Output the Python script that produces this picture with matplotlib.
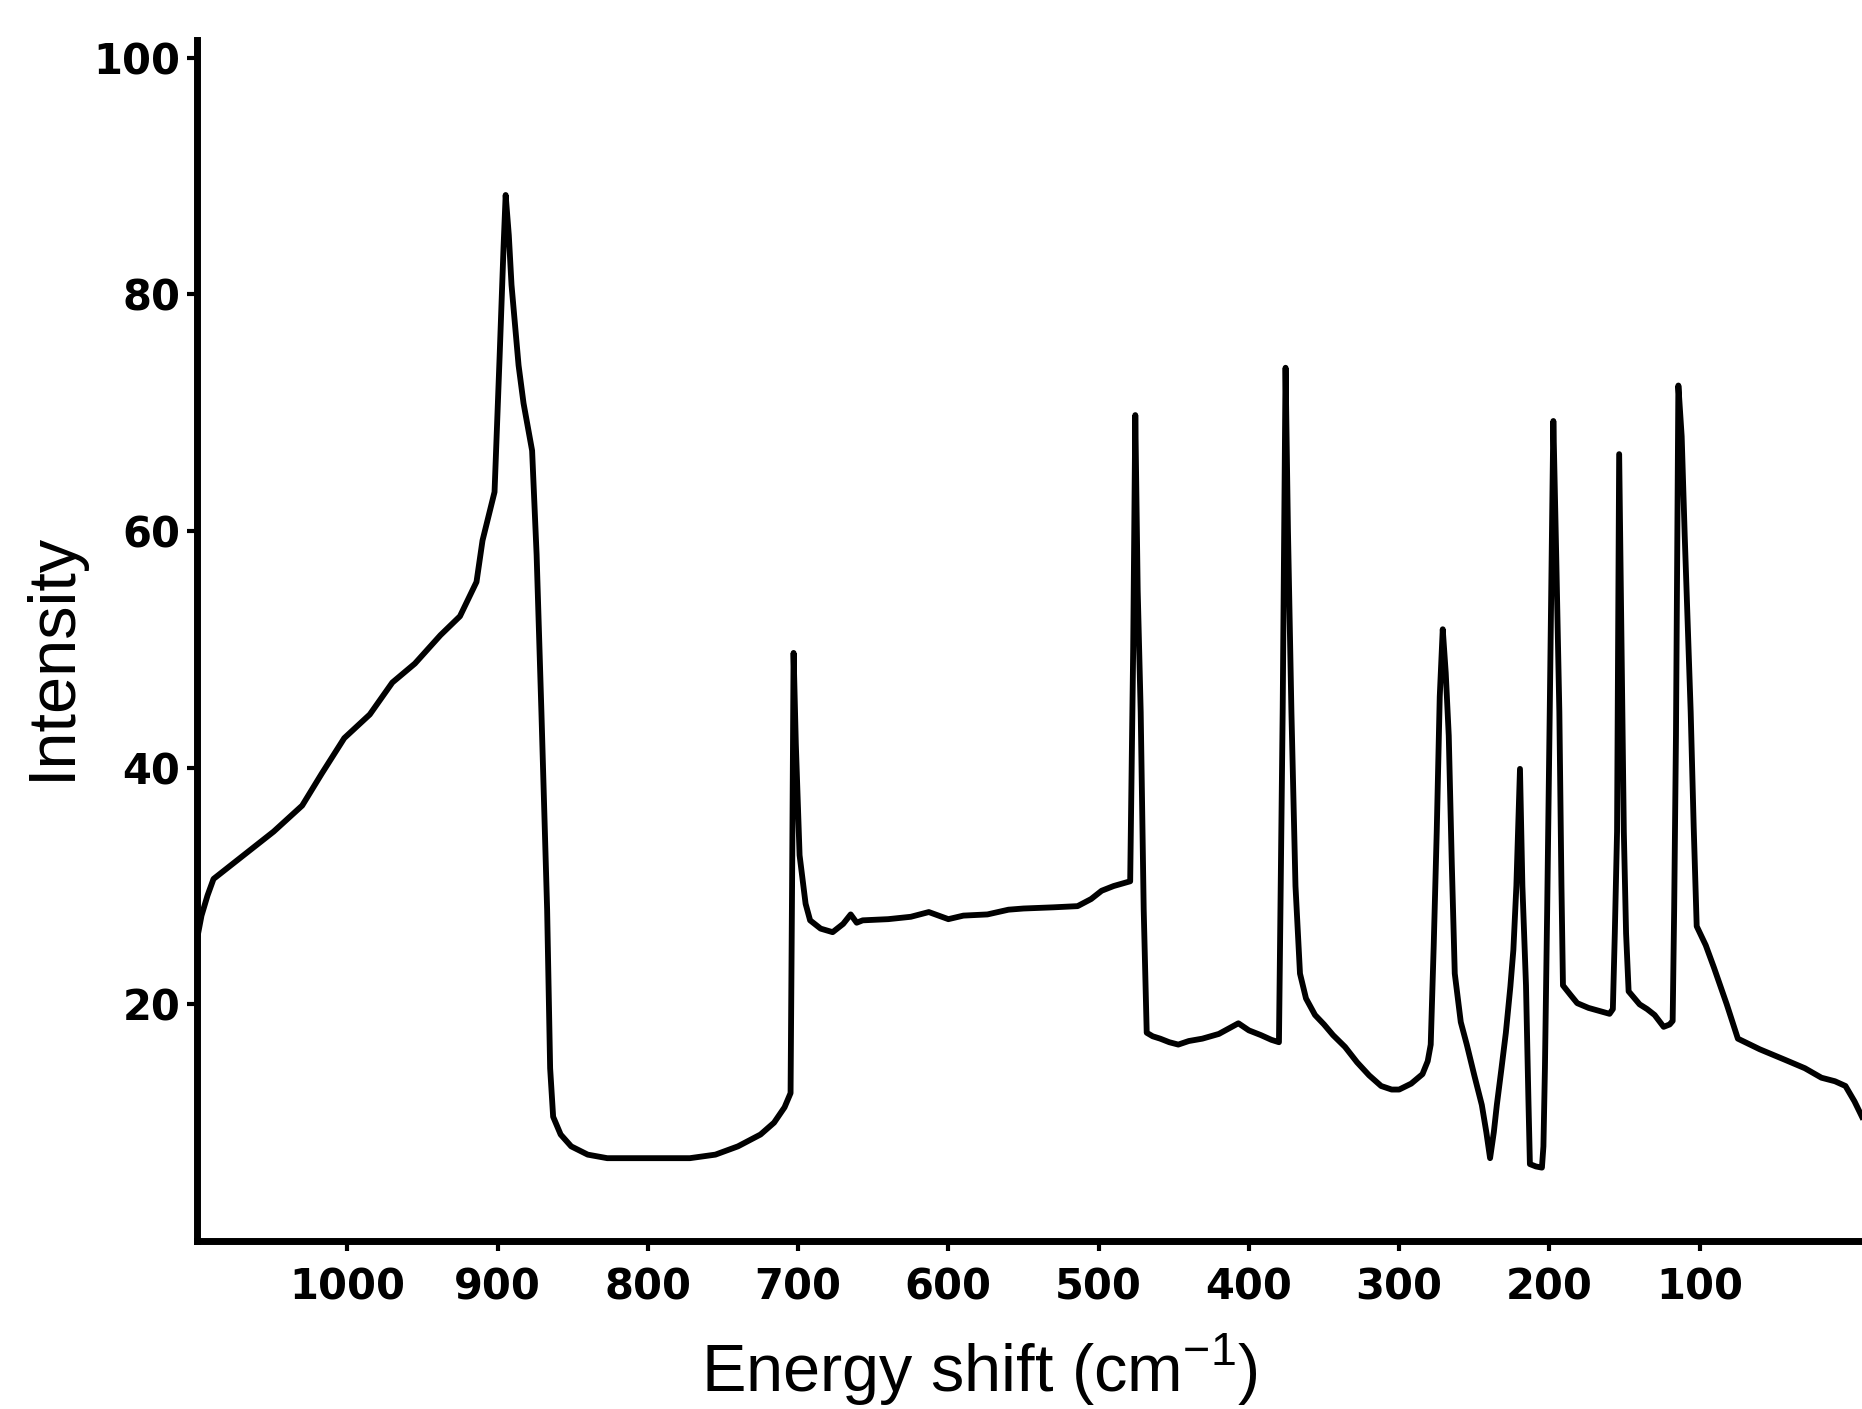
import matplotlib
matplotlib.use("Agg")
import matplotlib.pyplot as plt

# Raman spectrum (energy shift in cm^-1, intensity)
shift = [1100, 1097, 1093, 1089, 1070, 1049, 1030, 1017, 1002, 985, 970, 955,
         938, 925, 914, 910, 902, 898.6, 896, 894.6, 892.5, 890.7, 886, 882.7,
         877, 874, 870.8, 867, 865, 863, 858, 851, 840, 827, 800, 772, 755, 740,
         725, 716, 709, 705, 704, 703, 701.5, 699, 695, 692, 685, 677, 670, 665,
         661, 657, 640, 625, 613, 600, 590, 574, 560, 550, 530, 514, 505, 498,
         490, 479, 477, 475.6, 474, 472, 470, 468, 464, 459, 453, 447, 440, 431,
         420, 407, 400, 392, 385, 380, 377.5, 375.6, 374, 371.7, 369, 366, 362,
         356, 350, 344, 336, 328, 320, 312, 305, 300, 292, 284.5, 281, 279, 277,
         275, 273, 271, 269, 267, 265, 263, 259, 255, 250, 245, 242, 239.5, 237,
         235, 232, 229, 226, 224, 222, 219.6, 218, 215.6, 214, 213, 209, 205, 204,
         203, 201.5, 199.8, 197.4, 195.5, 193.4, 192, 191, 186, 181.5, 174, 165.6,
         160, 157.8, 156.5, 155, 153.6, 152, 150.5, 149, 147.3, 140, 135, 130,
         124, 120, 118, 117, 115.8, 114.2, 112, 110, 106, 104, 102, 96, 90.5, 82,
         74.6, 60, 43, 30, 19, 10, 3, -3, -8]
intensity = [25.5, 27.5, 29.2, 30.6, 32.5, 34.6, 36.8, 39.5, 42.5, 44.5, 47.2,
             48.8, 51.2, 52.8, 55.7, 59.2, 63.3, 74.8, 84, 88.4, 85, 80.8, 74,
             70.8, 66.8, 58, 44.7, 28, 14.6, 10.5, 9, 8.0, 7.3, 7.0, 7.0, 7.0,
             7.3, 8.0, 9.0, 10.0, 11.3, 12.5, 30, 49.7, 42, 32.6, 28.5, 27.1, 26.4,
             26.1, 26.8, 27.6, 26.9, 27.1, 27.2, 27.4, 27.8, 27.2, 27.5, 27.6, 28.0,
             28.1, 28.2, 28.3, 28.9, 29.6, 30.0, 30.4, 50, 69.8, 55, 44.7, 28,
             17.6, 17.3, 17.1, 16.8, 16.6, 16.9, 17.1, 17.5, 18.4, 17.8, 17.4, 17.0,
             16.8, 45, 73.8, 60, 44.7, 30, 22.6, 20.5, 19.1, 18.3, 17.4, 16.4, 15.1,
             14.0, 13.1, 12.8, 12.8, 13.3, 14.1, 15.2, 16.6, 25, 34.6, 46, 51.7,
             48, 42.7, 32, 22.6, 18.5, 16.6, 14, 11.5, 9.2, 7.0, 9.2, 11.5, 14.5,
             17.6, 21.5, 24.6, 30, 39.9, 30, 21.6, 12, 6.5, 6.3, 6.2, 8, 14.6, 28,
             44.7, 69.3, 58, 44.7, 30, 21.6, 20.8, 20.1, 19.7, 19.4, 19.2, 19.6, 26,
             34.6, 66.5, 50, 34.6, 26, 21.1, 20, 19.6, 19.1, 18.1, 18.3, 18.6, 28,
             42.7, 72.3, 68, 59.7, 44.7, 35, 26.6, 25, 23.1, 20, 17.1, 16.2, 15.3,
             14.6, 13.8, 13.5, 13.1, 11.8, 10.5]

x_ticks = [1000, 900, 800, 700, 600, 500, 400, 300, 200, 100]
y_ticks = [20, 40, 60, 80, 100]

W, H = 1862, 1409
fig = plt.figure(figsize=(W / 100, H / 100), dpi=100)
ax = fig.add_axes([197 / W, 168 / H, 1 - 197 / W, (1241 - 40) / H])

ax.plot(shift, intensity, color="black", lw=4.2, solid_joinstyle="round")

ax.set_xlim(1100, -8)
ax.set_ylim(0, 101.5)
ax.set_xticks(x_ticks)
ax.set_yticks(y_ticks)
ax.set_xticklabels([str(v) for v in x_ticks], fontsize=30, fontweight="bold")
ax.set_yticklabels([str(v) for v in y_ticks], fontsize=30, fontweight="bold")
ax.tick_params(axis="both", direction="out", length=7, width=3, color="black")
ax.tick_params(axis="x", pad=11)
ax.tick_params(axis="y", pad=5)

for side in ("top", "right"):
    ax.spines[side].set_visible(False)
for side in ("left", "bottom"):
    ax.spines[side].set_linewidth(5)

plt.rcParams["mathtext.fontset"] = "custom"
plt.rcParams["mathtext.rm"] = "Liberation Sans"
fig.text(53 / W, 1 - 656 / H, "Intensity", rotation=90, ha="center", va="center",
         fontsize=48, family="Liberation Sans")
fig.text(979 / W, 1 - 1392 / H, r"Energy shift (cm$^{\mathrm{-1}}$)", ha="center",
         va="baseline", fontsize=48, family="Liberation Sans")

fig.savefig("out.png", dpi=100, facecolor="white")
